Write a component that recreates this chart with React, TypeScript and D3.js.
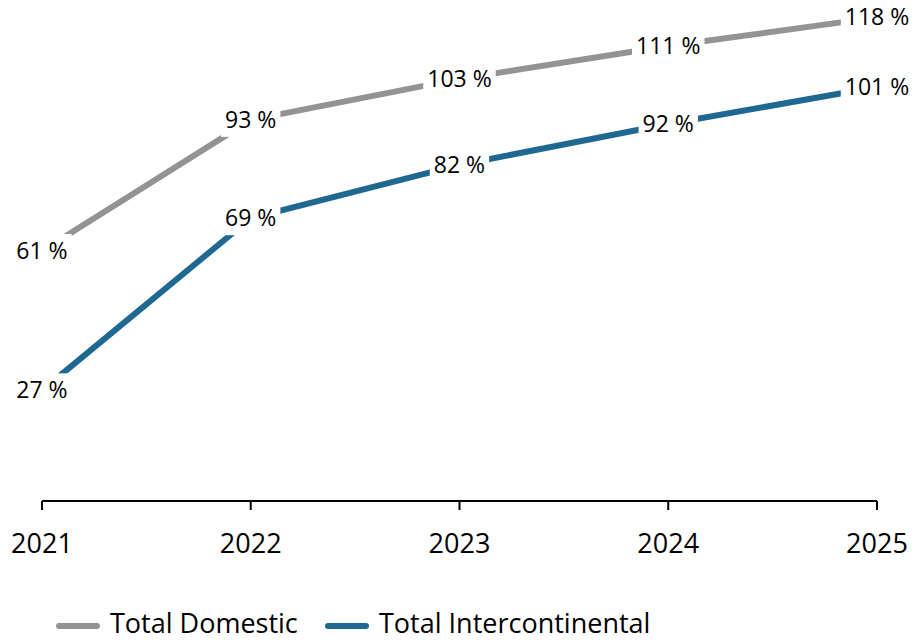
import React, { useEffect, useRef } from "react";
import * as d3 from "d3";

const years = ["2021", "2022", "2023", "2024", "2025"];
const domestic = [61, 93, 103, 111, 118];
const intercontinental = [27, 69, 82, 92, 101];
const seriesNames = ["Total Domestic", "Total Intercontinental"];
const seriesColors = ["#939393", "#1f6891"];

const W = 913;
const H = 642;
const FONT = "'Open Sans', 'Liberation Sans', sans-serif";

export default function App() {
  const ref = useRef<SVGSVGElement>(null);

  useEffect(() => {
    const svg = d3.select(ref.current);
    svg.selectAll("*").remove();

    const x = d3.scalePoint<string>().domain(years).range([42, 877]);
    const y = d3.scaleLinear().domain([0, 122]).range([501, 1]);

    // axis
    const axis = svg.append("g").attr("transform", "translate(0,501)");
    axis
      .append("line")
      .attr("x1", x(years[0])!)
      .attr("x2", x(years[years.length - 1])!)
      .attr("stroke", "#000")
      .attr("stroke-width", 2);
    years.forEach((yr) => {
      axis
        .append("line")
        .attr("x1", x(yr)!)
        .attr("x2", x(yr)!)
        .attr("y1", 0)
        .attr("y2", 9)
        .attr("stroke", "#000")
        .attr("stroke-width", 2);
      axis
        .append("text")
        .attr("x", x(yr)!)
        .attr("y", 52)
        .attr("text-anchor", "middle")
        .attr("font-family", FONT)
        .attr("font-size", 27)
        .attr("fill", "#000")
        .text(yr);
    });

    const all = [domestic, intercontinental];
    const line = d3
      .line<number>()
      .x((_, i) => x(years[i])!)
      .y((d) => y(d));

    all.forEach((vals, si) => {
      svg
        .append("path")
        .attr("d", line(vals)!)
        .attr("fill", "none")
        .attr("stroke", seriesColors[si])
        .attr("stroke-width", 6);
    });

    all.forEach((vals) => {
      vals.forEach((v, i) => {
        const g = svg.append("g");
        const rect = g.append("rect").attr("fill", "#fff");
        const t = g
          .append("text")
          .attr("x", x(years[i])!)
          .attr("y", y(v) + 8)
          .attr("text-anchor", "middle")
          .attr("font-family", FONT)
          .attr("font-size", 23)
          .attr("fill", "#000")
          .text(`${v} %`);
        const bb = (t.node() as SVGTextElement).getBBox();
        rect
          .attr("x", bb.x - 4)
          .attr("y", y(v) - 17)
          .attr("width", bb.width + 8)
          .attr("height", 34);
      });
    });

    // legend
    const lg = svg.append("g").attr("transform", "translate(0,626)");
    const legendX = [56, 325];
    seriesNames.forEach((name, i) => {
      lg.append("line")
        .attr("x1", legendX[i] + 3)
        .attr("x2", legendX[i] + 41)
        .attr("stroke", seriesColors[i])
        .attr("stroke-width", 6)
        .attr("stroke-linecap", "round");
      lg.append("text")
        .attr("x", legendX[i] + 54)
        .attr("y", 7)
        .attr("font-family", FONT)
        .attr("font-size", 27)
        .attr("fill", "#000")
        .text(name);
    });
  }, []);

  return (
    <svg
      ref={ref}
      width={W}
      height={H}
      style={{ position: "absolute", left: 0, top: 0, background: "#fff" }}
    />
  );
}
